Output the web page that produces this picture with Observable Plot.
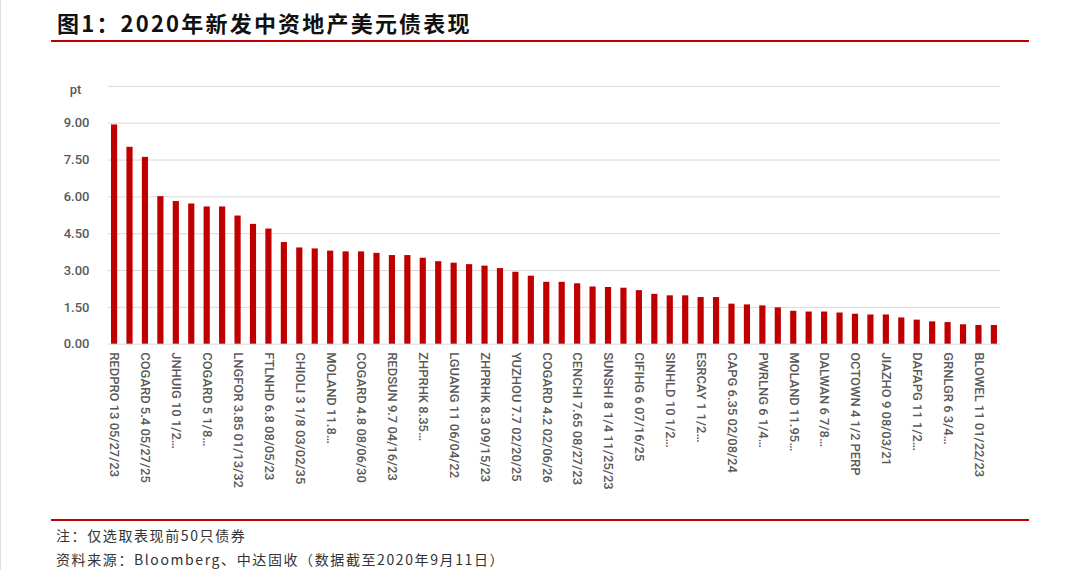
<!DOCTYPE html>
<html>
<head>
<meta charset="utf-8">
<script src="https://cdn.jsdelivr.net/npm/d3@7"></script>
<script src="https://cdn.jsdelivr.net/npm/@observablehq/plot@0.6"></script>
<style>
  html, body { margin: 0; padding: 0; background: #fff; }
  #wrap { position: relative; width: 1080px; height: 570px; overflow: hidden; background: #fff; border-left: 1px solid #e0e0e0; box-sizing: border-box; }
  #chart { position: absolute; left: 0; top: 0; }
  #title { position: absolute; left: 56px; top: 5px; font-family: "Noto Sans CJK SC", sans-serif; font-weight: 700; font-size: 22px; letter-spacing: 2.2px; color: #111; line-height: 34px; white-space: nowrap; }
  .redline { position: absolute; left: 50px; width: 978px; background: #c00000; }
  .note { position: absolute; left: 55px; font-family: "Noto Sans CJK SC", sans-serif; font-size: 14px; letter-spacing: 1.6px; color: #333; white-space: nowrap; line-height: 20px; }
</style>
</head>
<body>
<div id="wrap">
  <div id="chart"></div>
  <div id="title">图1：2020年新发中资地产美元债表现</div>
  <div class="redline" style="top:40px;height:2px;"></div>
  <div class="redline" style="top:519px;height:1.5px;"></div>
  <div class="note" style="top:525px;">注：仅选取表现前50只债券</div>
  <div class="note" style="top:549px;">资料来源：Bloomberg、中达固收（数据截至2020年9月11日）</div>
</div>
<script>
// Every other bar is labelled in the source chart
const labels = [
  "REDPRO 13 05/27/23", "COGARD 5.4 05/27/25", "JNHUIG 10 1/2…", "COGARD 5 1/8…",
  "LNGFOR 3.85 01/13/32", "FTLNHD 6.8 08/05/23", "CHIOLI 3 1/8 03/02/35", "MOLAND 11.8…",
  "COGARD 4.8 08/06/30", "REDSUN 9.7 04/16/23", "ZHPRHK 8.35…", "LGUANG 11 06/04/22",
  "ZHPRHK 8.3 09/15/23", "YUZHOU 7.7 02/20/25", "COGARD 4.2 02/06/26", "CENCHI 7.65 08/27/23",
  "SUNSHI 8 1/4 11/25/23", "CIFIHG 6 07/16/25", "SINHLD 10 1/2…", "ESRCAY 1 1/2…",
  "CAPG 6.35 02/08/24", "PWRLNG 6 1/4…", "MOLAND 11.95…", "DALWAN 6 7/8…",
  "OCTOWN 4 1/2 PERP", "JIAZHO 9 08/03/21", "DAFAPG 11 1/2…", "GRNLGR 6 3/4…",
  "BLOWEL 11 01/22/23"
];
const values = [
  8.93, 8.02, 7.61, 6.01, 5.81, 5.71, 5.59, 5.59, 5.22, 4.88,
  4.69, 4.14, 3.92, 3.88, 3.79, 3.76, 3.76, 3.70, 3.61, 3.61,
  3.50, 3.36, 3.30, 3.24, 3.18, 3.08, 2.93, 2.77, 2.52, 2.52,
  2.46, 2.33, 2.31, 2.28, 2.18, 2.03, 1.97, 1.97, 1.90, 1.90,
  1.63, 1.60, 1.56, 1.48, 1.34, 1.31, 1.31, 1.27, 1.22, 1.19,
  1.19, 1.07, 0.98, 0.91, 0.88, 0.79, 0.76, 0.76
];
const gridTicks = [0, 1.5, 3, 4.5, 6, 7.5, 9, 10.5];
const labelTicks = [0, 1.5, 3, 4.5, 6, 7.5, 9];
const unitLabel = "pt";

const data = values.map((v, i) => ({i, v}));

const chart = Plot.plot({
  width: 1080,
  height: 570,
  marginLeft: 107,
  marginRight: 80,
  marginTop: 86,
  marginBottom: 226,
  style: {fontFamily: "Roboto, sans-serif", background: "transparent", overflow: "visible"},
  x: {type: "band", domain: d3.range(values.length), paddingInner: 0.6, paddingOuter: 0.2, align: 0.5, round: false},
  y: {domain: [0, 10.5]},
  marks: [
    Plot.ruleY(gridTicks, {stroke: "#d9d9d9", strokeWidth: 1}),
    Plot.barY(data, {x: "i", y: "v", fill: "#c00000"}),
    Plot.axisY(labelTicks, {
      tickSize: 0, tickPadding: 19, tickFormat: d => d.toFixed(2),
      fontSize: 13, fontWeight: 500, fill: "#595959", label: null
    }),
    Plot.text([10.5], {y: d => d, frameAnchor: "left", dx: -33, dy: 3, text: () => unitLabel,
      fontSize: 13, fontWeight: 500, fill: "#595959", textAnchor: "middle"}),
    Plot.axisX({
      tickSize: 0, tickPadding: 8, tickRotate: 90,
      tickFormat: i => (i % 2 === 0 ? labels[i / 2] : ""),
      fontSize: 13, fontWeight: 500, fill: "#595959", label: null
    })
  ]
});
document.getElementById("chart").appendChild(chart);
</script>
</body>
</html>
